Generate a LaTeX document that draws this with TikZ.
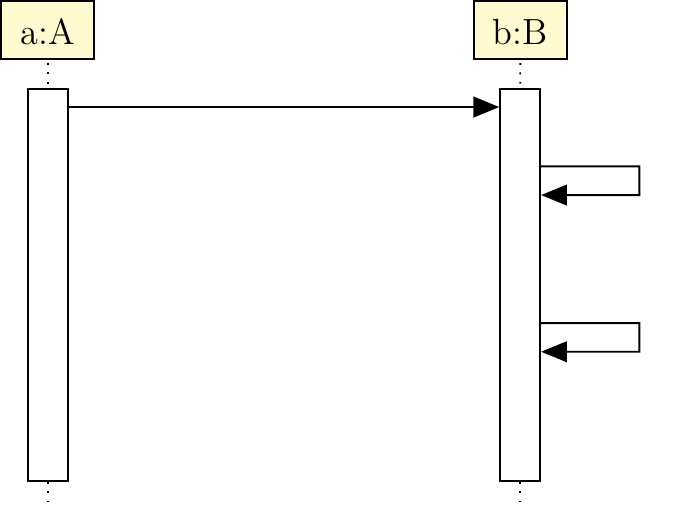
\documentclass[tikz,border=0pt]{standalone}
\usepackage{tikz}
\usetikzlibrary{calc,arrows.meta,positioning}
\definecolor{objfill}{RGB}{255,250,208}

\begin{document}
\begin{tikzpicture}[x=0.0116cm,y=-0.0116cm,line width=0.65pt,
    obj/.style={draw,fill=objfill,minimum width=1.082cm,minimum height=0.676cm,inner sep=0pt,font=\large,text height=9.6pt,text depth=0pt},
    act/.style={draw,fill=white,minimum width=0.462cm,minimum height=4.55cm,inner sep=0pt},
    life/.style={line width=0.6pt,dash pattern=on 0.6pt off 2.5pt},
    msg/.style={-{Triangle[length=3mm,width=2.4mm]}}]
    \useasboundingbox (0,0) rectangle (684,512);
    % objects
    \node[obj] (a) at (47.7,30.2){a:A};
    \node[obj] (b) at (520.4,30.2){b:B};
    % activations
    \node[act] (acta) at (47.7,284.9){};
    \node[act] (actb) at (520.2,284.9){};
    \coordinate (enda) at (47.7,507);
    \coordinate (endb) at (520.2,507);
    % lifelines
    \draw[life,dash phase=2.2pt] (a.south) -- (acta.north);
    \draw[life,dash phase=2.2pt] (b.south) -- (actb.north);
    \draw[life,dash phase=0.1pt] (acta.south) -- (enda);
    \draw[life,dash phase=0.1pt] (actb.south) -- (endb);
    % messages
    \draw[msg] ($(acta.north east)+(0,19.3)$) -- ($(actb.north west)+(0,19.3)$);
    \draw[msg] ($(actb.north east)+(0,78.6)$) -- ++(98.3,0) -- ++(0,28.7) -- ($(actb.north east)+(0,107.3)$);
    \draw[msg] ($(actb.north east)+(0,235.3)$) -- ++(98.3,0) -- ++(0,28.7) -- ($(actb.north east)+(0,264)$);
\end{tikzpicture}
\end{document}
